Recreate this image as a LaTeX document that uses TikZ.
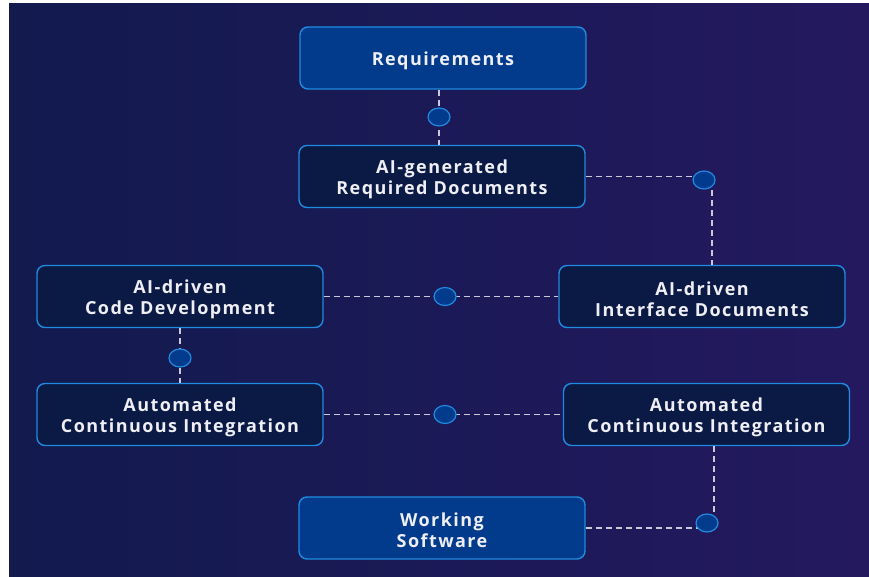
\documentclass[tikz,border=0pt]{standalone}
\usepackage{fontspec}
\setmainfont{Open Sans}
\newfontfamily\lbl{Open Sans}[LetterSpace=8]
\usetikzlibrary{shapes.geometric}
\definecolor{bgL}{HTML}{121A4E}
\definecolor{bgR}{HTML}{24195F}
\definecolor{boxBlue}{HTML}{023B8C}
\definecolor{boxDark}{HTML}{0A1A44}
\definecolor{edgeBlue}{HTML}{1E8AE0}
\definecolor{dashGray}{HTML}{C9CAD9}
\definecolor{txt}{HTML}{EEEEF4}
\begin{document}
\begin{tikzpicture}[x=1pt,y=-1pt,
  stage/.style={rounded corners=8pt, draw=edgeBlue, line width=1.4pt,
    minimum width=286pt, minimum height=62pt, inner sep=0pt},
  brightbox/.style={stage, fill=boxBlue},
  darkbox/.style={stage, fill=boxDark},
  caption/.style={text=txt, align=center, inner sep=0pt, yshift=-2.5pt,
    font=\lbl\bfseries\fontsize{18}{21}\selectfont},
  dot/.style={ellipse, draw=edgeBlue, fill=boxBlue, line width=1.2pt,
    minimum width=22pt, minimum height=18pt, inner sep=0pt},
  link/.style={draw=dashGray, line width=1.3pt, dash pattern=on 6pt off 4pt}
]
\useasboundingbox (0,0) rectangle (869,577);
\fill[white] (0,0) rectangle (869,577);
\shade[left color=bgL, right color=bgR] (9,4) rectangle (869,577);

\node[brightbox] (req) at (443,58) {};
\node[darkbox] (gen) at (442,176.5) {};
\node[darkbox] (code) at (180,296.5) {};
\node[darkbox] (iface) at (702,296.5) {};
\node[darkbox] (cil) at (180,414.5) {};
\node[darkbox] (cir) at (706.5,414.5) {};
\node[brightbox] (work) at (442,528) {};

\node[caption] (req-t) at (req) {Requirements};
\node[caption] (gen-t) at (gen) {AI-generated\\Required Documents};
\node[caption] (code-t) at (code) {AI-driven\\Code Development};
\node[caption] (iface-t) at (iface) {AI-driven\\Interface Documents};
\node[caption] (cil-t) at (cil) {Automated\\Continuous Integration};
\node[caption] (cir-t) at (cir) {Automated\\Continuous Integration};
\node[caption] (work-t) at (work) {Working\\Software};

\coordinate (d1) at (439,117);
\coordinate (d2) at (704,180);
\coordinate (d3) at (445,296.5);
\coordinate (d4) at (180,358);
\coordinate (d5) at (445,414.5);
\coordinate (d6) at (707,523);
\coordinate (k2) at (712,180);
\coordinate (k6) at (714,520);

\draw[link] (req.south -| d1) -- (gen.north -| d1);
\draw[link] (gen.east) -- (gen.east -| d2);
\draw[link] (k2) -- (iface.north -| k2);
\draw[link] (code.east) -- (iface.west);
\draw[link] (code.south) -- (cil.north);
\draw[link] (cil.east) -- (cir.west);
\draw[link] (cir.south -| k6) -- (k6);
\draw[link] (work.east) -- (work.east -| d6);

\node[dot] (c1) at (d1) {};
\node[dot] (c2) at (d2) {};
\node[dot] (c3) at (d3) {};
\node[dot] (c4) at (d4) {};
\node[dot] (c5) at (d5) {};
\node[dot] (c6) at (d6) {};
\end{tikzpicture}
\end{document}
